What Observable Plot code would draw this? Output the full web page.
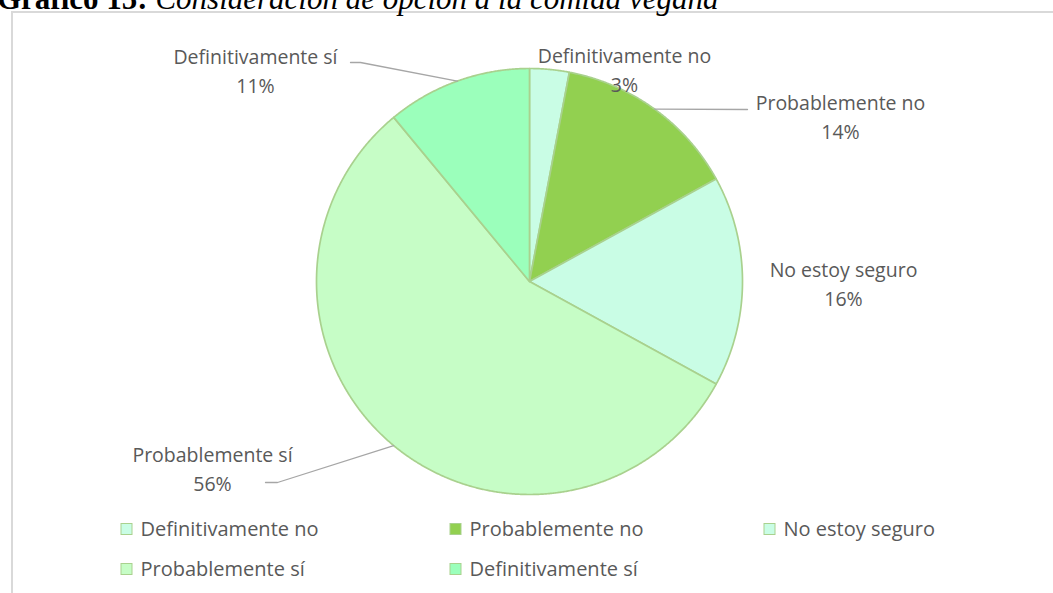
<!DOCTYPE html>
<html><head><meta charset="utf-8">
<script src="https://cdn.jsdelivr.net/npm/d3@7"></script>
<script src="https://cdn.jsdelivr.net/npm/@observablehq/plot@0.6"></script>
<style>
body{margin:0;background:#fff;}
#wrap{position:relative;width:1053px;height:593px;overflow:hidden;}
#chart{position:absolute;left:0;top:0;}
#frame{position:absolute;left:11px;top:11px;width:1100px;height:700px;border-left:2px solid #d9d9d9;border-top:2px solid #d9d9d9;}
#title{position:absolute;left:-3px;top:-16px;font-family:"Liberation Serif","Times New Roman",serif;font-size:31px;line-height:30px;white-space:nowrap;color:#000;}
</style></head><body>
<div id="wrap"><div id="chart"></div><div id="frame"></div><div id="title"><b>Gráfico 15:</b> <i>Consideración de opción a la comida vegana</i></div></div>
<script>
// ---- data ----
const categories = ["Definitivamente no", "Probablemente no", "No estoy seguro", "Probablemente sí", "Definitivamente sí"];
const values = [3, 14, 16, 56, 11];
const pctLabels = ["3%", "14%", "16%", "56%", "11%"];
const colors = ["#c9fde5", "#92d050", "#c9fde5", "#c6fdc6", "#9bffbb"];

// ---- layout (pixels) ----
const W = 1053, H = 593;
const CX = 529, CY = 281, R = 213;
const labelCenters = [[624, 68], [840, 115], [843, 282], [212, 467], [255, 69]]; // center of two-line block
const leaderBends = [null, [[747, 109]], null, [[277, 482], [265, 482]], [[360, 62], [350, 62]]];
const legendCols = [121, 450, 764];
const legendRows = [529, 569];
const FONT = "Open Sans";
const FS = 19.5;

// ---- build geometry from data ----
const arcs = d3.pie().sort(null)(values);
const pt = a => [CX + R * Math.sin(a), CY - R * Math.cos(a)];
const slices = [];
arcs.forEach((a, i) => {
  slices.push({cat: categories[i], x: CX, y: CY});
  const n = Math.max(2, Math.ceil((a.endAngle - a.startAngle) / 0.005));
  for (let k = 0; k <= n; k++) {
    const t = a.startAngle + (a.endAngle - a.startAngle) * k / n;
    const [x, y] = pt(t);
    slices.push({cat: categories[i], x, y});
  }
  slices.push({cat: categories[i], x: CX, y: CY});
});
const leaders = [];
arcs.forEach((a, i) => {
  if (!leaderBends[i]) return;
  const [x, y] = pt((a.startAngle + a.endAngle) / 2);
  leaders.push({cat: categories[i], x, y});
  leaderBends[i].forEach(([bx, by]) => leaders.push({cat: categories[i], x: bx, y: by}));
});
const labels = categories.map((c, i) => ({text: c + "\n" + pctLabels[i], x: labelCenters[i][0], y: labelCenters[i][1]}));
const legend = categories.map((c, i) => ({cat: c, color: colors[i], x: legendCols[i % 3], y: legendRows[Math.floor(i / 3)]}));

const colorScale = {type: "ordinal", domain: categories, range: colors};

const chart = Plot.plot({
  width: W, height: H,
  margin: 0,
  style: {background: "transparent", fontFamily: FONT},
  x: {type: "identity", axis: null},
  y: {type: "identity", axis: null},
  color: colorScale,
  marks: [
    Plot.line(slices, {x: "x", y: "y", z: "cat", fill: "cat", stroke: "#a9d18e", strokeWidth: 1.7, strokeLinejoin: "round"}),
    Plot.line(leaders, {x: "x", y: "y", z: "cat", stroke: "#a6a6a6", strokeWidth: 1.3}),
    Plot.text(labels, {x: "x", y: "y", text: "text", fill: "#595959", fontSize: FS, lineHeight: 29 / FS, lineAnchor: "middle", textAnchor: "middle"}),
    Plot.rect(legend, {x1: d => d.x, x2: d => d.x + 11, y1: d => d.y - 5.5, y2: d => d.y + 5.5, fill: "color", stroke: "#a9d18e", strokeWidth: 1}),
    Plot.text(legend, {x: d => d.x + 19, y: "y", text: "cat", fill: "#595959", fontSize: 20, textAnchor: "start", lineAnchor: "middle"})
  ]
});
document.getElementById("chart").appendChild(chart);
</script>
</body></html>
